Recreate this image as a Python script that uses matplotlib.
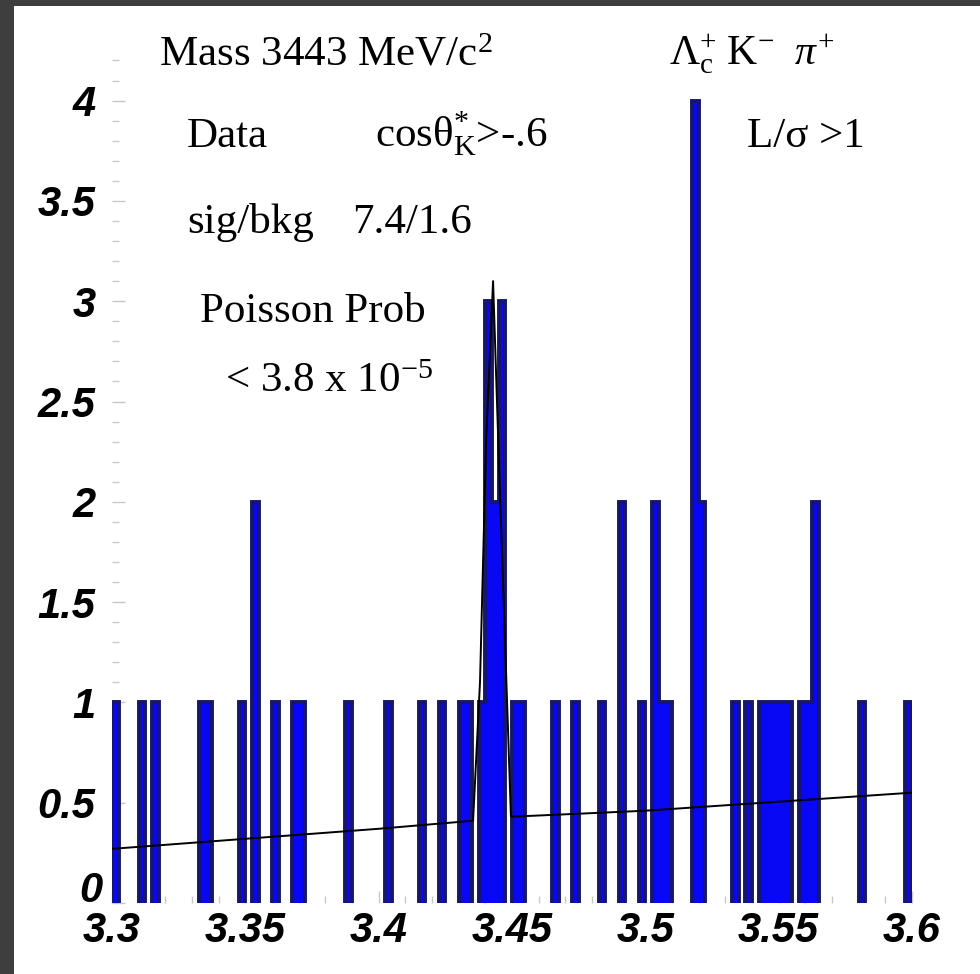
#=====================================================================
# Histograma de massa Lambda_c K pi (estilo ROOT), refeito em matplotlib
#=====================================================================
import numpy as np
import matplotlib
matplotlib.use("Agg")
import matplotlib.pyplot as plt
from matplotlib.patches import Rectangle
from matplotlib.transforms import ScaledTranslation

# ----- dados -----
# 120 bins de 3.3 a 3.6 (0.0025 por bin)
x_min = 3.3
x_max = 3.6
n_bins = 120

counts = [
    1, 0, 0, 0, 1, 0, 1, 0, 0, 0, 0, 0, 0, 1, 1, 0, 0, 0, 0, 1,
    0, 2, 0, 0, 1, 0, 0, 1, 1, 0, 0, 0, 0, 0, 0, 1, 0, 0, 0, 0,
    0, 1, 0, 0, 0, 0, 1, 0, 0, 1, 0, 0, 1, 1, 0, 1, 3, 2, 3, 0,
    1, 1, 0, 0, 0, 0, 1, 0, 0, 1, 0, 0, 0, 1, 0, 0, 2, 0, 0, 1,
    0, 2, 1, 1, 0, 0, 0, 4, 2, 0, 0, 0, 0, 1, 0, 1, 0, 1, 1, 1,
    1, 1, 0, 1, 1, 2, 0, 0, 0, 0, 0, 0, 1, 0, 0, 0, 0, 0, 0, 1,
]

# curva do ajuste (fundo linear + pico)
fit_x = [3.300, 3.350, 3.400, 3.4354, 3.4380, 3.4403, 3.4429,
         3.4451, 3.4474, 3.4496, 3.500, 3.550, 3.600]
fit_y = [0.27, 0.32, 0.37, 0.41, 1.10, 2.30, 3.10,
         2.20, 1.30, 0.43, 0.46, 0.505, 0.55]

x_ticks = [3.3, 3.35, 3.4, 3.45, 3.5, 3.55, 3.6]
x_tick_labels = ["3.3", "3.35", "3.4", "3.45", "3.5", "3.55", "3.6"]
y_ticks = [0, 0.5, 1, 1.5, 2, 2.5, 3, 3.5, 4]
y_tick_labels = ["0", "0.5", "1", "1.5", "2", "2.5", "3", "3.5", "4"]

# ----- cores -----
COR_BORDA = '#3e3e3e'
COR_BARRA = '#0808f4'
COR_CONTORNO = '#16166a'
COR_TICK = '#c8c8c8'

W, H = 980, 974
fig = plt.figure(figsize=(W / 100, H / 100), dpi=100, facecolor=COR_BORDA)
# area branca (borda escura so em cima e a esquerda)
fig.patches.append(Rectangle((14 / W, 0), 1 - 14 / W, 1 - 6 / H,
                             transform=fig.transFigure, facecolor='white',
                             edgecolor='none', zorder=-10))

# mathtext em fonte serifada reta (como o latex do ROOT)
plt.rcParams['mathtext.fontset'] = 'custom'
plt.rcParams['mathtext.rm'] = 'Liberation Serif'
plt.rcParams['mathtext.it'] = 'Liberation Serif:italic'

# eixo: x 3.3 -> px 112, 3.6 -> px 912 ; y 0 -> px 903, 200.6 px por unidade
y_top = 4.25
ax_left, ax_right = 112, 912
ax_bottom = 903
ax_height = y_top * 200.6
ax = fig.add_axes([ax_left / W, (H - ax_bottom) / H,
                   (ax_right - ax_left) / W, ax_height / H])
ax.set_facecolor('none')
ax.set_zorder(1)

edges = np.linspace(x_min, x_max, n_bins + 1)
vals = np.array(counts, dtype=float)

# preenchimento + contorno (sem linha na base)
ax.stairs(vals, edges, fill=True, facecolor=COR_BARRA, edgecolor='none', zorder=2)
contorno = np.where(vals > 0, vals, np.nan)
ax.stairs(contorno, edges, baseline=0, fill=False, edgecolor=COR_CONTORNO,
          linewidth=2.8, zorder=3)

# linha do ajuste
ax.plot(fit_x, fit_y, color='black', linewidth=1.4, zorder=4)

ax.set_xlim(x_min, x_max)
ax.set_ylim(0, y_top)
ax.set_xticks(x_ticks)
ax.set_xticklabels(x_tick_labels)
ax.set_yticks(y_ticks)
ax.set_yticklabels(y_tick_labels)
ax.set_xticks(np.arange(3.30, 3.6001, 0.01), minor=True)
ax.set_yticks(np.arange(0, 4.25, 0.1), minor=True)
ax.tick_params(which='major', direction='in', length=9, width=1, color=COR_TICK)
ax.tick_params(which='minor', direction='in', length=5, width=1, color=COR_TICK)
ax.tick_params(axis='y', pad=12)
ax.tick_params(axis='x', pad=6)
for spine in ax.spines.values():
    spine.set_visible(False)

for lab in ax.get_xticklabels() + ax.get_yticklabels():
    lab.set_fontfamily('Liberation Sans')
    lab.set_fontweight('bold')
    lab.set_fontstyle('italic')
    lab.set_fontsize(30)

# o "0" do eixo y fica um pouco acima e mais perto, como no ROOT
zero = ax.get_yticklabels()[0]
zero.set_transform(zero.get_transform() + ScaledTranslation(0.07, 0.17, fig.dpi_scale_trans))


# ----- textos (posicoes em pixels da figura) -----
def texto(px, py, s, size=31):
    fig.text(px / W, 1 - py / H, s, fontsize=size, family='Liberation Serif',
             color='black', ha='left', va='baseline', zorder=5)


texto(159, 65, r"Mass 3443 MeV/c$^{2}$")
texto(669, 65, r"$\Lambda_{\mathrm{c}}^{+}\ \mathrm{K}^{-}\ \ \pi^{+}$", size=30)
texto(187, 147, "Data")
texto(375, 147, r"cos$\mathrm{θ}_{\mathrm{K}}^{*}$>-.6")
texto(747, 147, "L/σ >1")
texto(187, 233, "sig/bkg")
texto(352, 233, "7.4/1.6")
texto(200, 322, "Poisson Prob")
texto(225, 392, r"< 3.8 x 10$^{-5}$")

plt.savefig('out.png', dpi=100, facecolor=COR_BORDA)
